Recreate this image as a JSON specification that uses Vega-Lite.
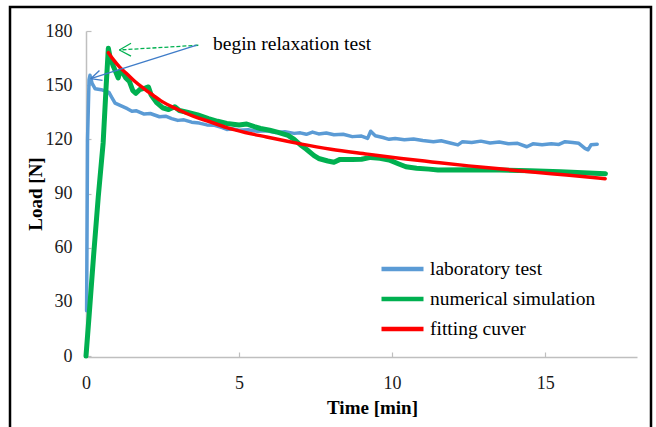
{
  "$schema": "https://vega.github.io/schema/vega-lite/v6.json",
  "width": 641,
  "height": 423,
  "autosize": {"type": "none"},
  "padding": {"left": 10, "top": 7, "right": 5, "bottom": 0},
  "background": "white",
  "config": {
    "view": {"stroke": "#000000", "strokeWidth": 2.5},
    "font": "Liberation Serif",
    "axis": {
      "grid": false,
      "domainColor": "#BFBFBF",
      "domainWidth": 1.5,
      "tickColor": "#BFBFBF",
      "tickWidth": 1.2,
      "tickSize": -5,
      "labelFlush": false,
      "labelOverlap": false,
      "labelFont": "Liberation Serif",
      "labelFontSize": 18,
      "labelColor": "#1a1a1a",
      "titleFont": "Liberation Serif",
      "titleFontSize": 19,
      "titleFontWeight": "bold",
      "titleColor": "#000000"
    }
  },
  "datasets": {
    "lines": [
      {"s": "laboratory test", "t": 0.02, "N": 25},
      {"s": "laboratory test", "t": 0.05, "N": 120},
      {"s": "laboratory test", "t": 0.1, "N": 153},
      {"s": "laboratory test", "t": 0.13, "N": 155.5},
      {"s": "laboratory test", "t": 0.2, "N": 151},
      {"s": "laboratory test", "t": 0.3, "N": 148},
      {"s": "laboratory test", "t": 0.5, "N": 147.5},
      {"s": "laboratory test", "t": 0.75, "N": 146},
      {"s": "laboratory test", "t": 0.85, "N": 143},
      {"s": "laboratory test", "t": 0.95, "N": 140},
      {"s": "laboratory test", "t": 1.15, "N": 138.5},
      {"s": "laboratory test", "t": 1.35, "N": 137},
      {"s": "laboratory test", "t": 1.5, "N": 135.5},
      {"s": "laboratory test", "t": 1.65, "N": 135.8},
      {"s": "laboratory test", "t": 1.9, "N": 134},
      {"s": "laboratory test", "t": 2.1, "N": 134.3},
      {"s": "laboratory test", "t": 2.4, "N": 132.5},
      {"s": "laboratory test", "t": 2.6, "N": 132.8},
      {"s": "laboratory test", "t": 2.8, "N": 131.5},
      {"s": "laboratory test", "t": 3.0, "N": 130.5},
      {"s": "laboratory test", "t": 3.2, "N": 130.8},
      {"s": "laboratory test", "t": 3.45, "N": 129.5},
      {"s": "laboratory test", "t": 3.7, "N": 129},
      {"s": "laboratory test", "t": 3.95, "N": 128},
      {"s": "laboratory test", "t": 4.2, "N": 127.8},
      {"s": "laboratory test", "t": 4.45, "N": 126.5},
      {"s": "laboratory test", "t": 4.6, "N": 125.5},
      {"s": "laboratory test", "t": 4.8, "N": 125.8},
      {"s": "laboratory test", "t": 5.0, "N": 125},
      {"s": "laboratory test", "t": 5.3, "N": 125.3},
      {"s": "laboratory test", "t": 5.6, "N": 124.5},
      {"s": "laboratory test", "t": 5.9, "N": 124.8},
      {"s": "laboratory test", "t": 6.2, "N": 123.8},
      {"s": "laboratory test", "t": 6.5, "N": 124.2},
      {"s": "laboratory test", "t": 6.8, "N": 123.3},
      {"s": "laboratory test", "t": 7.0, "N": 123.6},
      {"s": "laboratory test", "t": 7.2, "N": 122.8},
      {"s": "laboratory test", "t": 7.4, "N": 124},
      {"s": "laboratory test", "t": 7.6, "N": 123},
      {"s": "laboratory test", "t": 7.85, "N": 123.5},
      {"s": "laboratory test", "t": 8.1, "N": 122.5},
      {"s": "laboratory test", "t": 8.4, "N": 122.8},
      {"s": "laboratory test", "t": 8.7, "N": 121.5},
      {"s": "laboratory test", "t": 9.0, "N": 121.8},
      {"s": "laboratory test", "t": 9.2, "N": 120.5},
      {"s": "laboratory test", "t": 9.3, "N": 124.5},
      {"s": "laboratory test", "t": 9.45, "N": 122},
      {"s": "laboratory test", "t": 9.7, "N": 121},
      {"s": "laboratory test", "t": 9.9, "N": 120},
      {"s": "laboratory test", "t": 10.1, "N": 120.5},
      {"s": "laboratory test", "t": 10.4, "N": 119.8},
      {"s": "laboratory test", "t": 10.7, "N": 120.2},
      {"s": "laboratory test", "t": 11.0, "N": 119.3},
      {"s": "laboratory test", "t": 11.35, "N": 118.7},
      {"s": "laboratory test", "t": 11.6, "N": 119.2},
      {"s": "laboratory test", "t": 11.9, "N": 118},
      {"s": "laboratory test", "t": 12.15, "N": 116.9},
      {"s": "laboratory test", "t": 12.3, "N": 118.7},
      {"s": "laboratory test", "t": 12.6, "N": 118.2},
      {"s": "laboratory test", "t": 12.9, "N": 119},
      {"s": "laboratory test", "t": 13.2, "N": 118},
      {"s": "laboratory test", "t": 13.5, "N": 118.5},
      {"s": "laboratory test", "t": 13.8, "N": 117.6},
      {"s": "laboratory test", "t": 14.1, "N": 117.8},
      {"s": "laboratory test", "t": 14.4, "N": 115.9},
      {"s": "laboratory test", "t": 14.6, "N": 117.5},
      {"s": "laboratory test", "t": 14.9, "N": 117},
      {"s": "laboratory test", "t": 15.2, "N": 117.5},
      {"s": "laboratory test", "t": 15.45, "N": 117.2},
      {"s": "laboratory test", "t": 15.65, "N": 118.7},
      {"s": "laboratory test", "t": 15.9, "N": 118.2},
      {"s": "laboratory test", "t": 16.1, "N": 117.8},
      {"s": "laboratory test", "t": 16.3, "N": 115},
      {"s": "laboratory test", "t": 16.4, "N": 114.2},
      {"s": "laboratory test", "t": 16.5, "N": 117},
      {"s": "laboratory test", "t": 16.7, "N": 117.3},

      {"s": "numerical simulation", "t": 0, "N": 0},
      {"s": "numerical simulation", "t": 0.1, "N": 22},
      {"s": "numerical simulation", "t": 0.25, "N": 56},
      {"s": "numerical simulation", "t": 0.4, "N": 88},
      {"s": "numerical simulation", "t": 0.56, "N": 118},
      {"s": "numerical simulation", "t": 0.66, "N": 150},
      {"s": "numerical simulation", "t": 0.73, "N": 170.5},
      {"s": "numerical simulation", "t": 0.78, "N": 166},
      {"s": "numerical simulation", "t": 0.88, "N": 161},
      {"s": "numerical simulation", "t": 0.98, "N": 157},
      {"s": "numerical simulation", "t": 1.05, "N": 154},
      {"s": "numerical simulation", "t": 1.12, "N": 158},
      {"s": "numerical simulation", "t": 1.2, "N": 157},
      {"s": "numerical simulation", "t": 1.3, "N": 154},
      {"s": "numerical simulation", "t": 1.42, "N": 152},
      {"s": "numerical simulation", "t": 1.53, "N": 147},
      {"s": "numerical simulation", "t": 1.63, "N": 145.5},
      {"s": "numerical simulation", "t": 1.75, "N": 147.5},
      {"s": "numerical simulation", "t": 1.95, "N": 148.5},
      {"s": "numerical simulation", "t": 2.04, "N": 149},
      {"s": "numerical simulation", "t": 2.13, "N": 144.5},
      {"s": "numerical simulation", "t": 2.3, "N": 140.5},
      {"s": "numerical simulation", "t": 2.5, "N": 137.5},
      {"s": "numerical simulation", "t": 2.7, "N": 136.5},
      {"s": "numerical simulation", "t": 2.9, "N": 138},
      {"s": "numerical simulation", "t": 3.05, "N": 136},
      {"s": "numerical simulation", "t": 3.3, "N": 135},
      {"s": "numerical simulation", "t": 3.65, "N": 133.5},
      {"s": "numerical simulation", "t": 4.0, "N": 131.5},
      {"s": "numerical simulation", "t": 4.3, "N": 130},
      {"s": "numerical simulation", "t": 4.6, "N": 128.8},
      {"s": "numerical simulation", "t": 5.0, "N": 127.9},
      {"s": "numerical simulation", "t": 5.25, "N": 128.5},
      {"s": "numerical simulation", "t": 5.5, "N": 127},
      {"s": "numerical simulation", "t": 5.7, "N": 126},
      {"s": "numerical simulation", "t": 6.0, "N": 125},
      {"s": "numerical simulation", "t": 6.25, "N": 124},
      {"s": "numerical simulation", "t": 6.6, "N": 122.2},
      {"s": "numerical simulation", "t": 6.8, "N": 120},
      {"s": "numerical simulation", "t": 7.0, "N": 117},
      {"s": "numerical simulation", "t": 7.2, "N": 114.5},
      {"s": "numerical simulation", "t": 7.45, "N": 111},
      {"s": "numerical simulation", "t": 7.6, "N": 109.4},
      {"s": "numerical simulation", "t": 7.9, "N": 108},
      {"s": "numerical simulation", "t": 8.1, "N": 107.3},
      {"s": "numerical simulation", "t": 8.3, "N": 108.9},
      {"s": "numerical simulation", "t": 8.7, "N": 108.9},
      {"s": "numerical simulation", "t": 9.0, "N": 109},
      {"s": "numerical simulation", "t": 9.3, "N": 110},
      {"s": "numerical simulation", "t": 9.6, "N": 109.5},
      {"s": "numerical simulation", "t": 9.9, "N": 108.6},
      {"s": "numerical simulation", "t": 10.2, "N": 106.5},
      {"s": "numerical simulation", "t": 10.45, "N": 104.8},
      {"s": "numerical simulation", "t": 10.8, "N": 104},
      {"s": "numerical simulation", "t": 11.2, "N": 103.5},
      {"s": "numerical simulation", "t": 11.5, "N": 103},
      {"s": "numerical simulation", "t": 12.5, "N": 103.2},
      {"s": "numerical simulation", "t": 13.5, "N": 103},
      {"s": "numerical simulation", "t": 14.5, "N": 102.6},
      {"s": "numerical simulation", "t": 15.5, "N": 102},
      {"s": "numerical simulation", "t": 16.97, "N": 101},

      {"s": "fitting cuver", "t": 0.73, "N": 168},
      {"s": "fitting cuver", "t": 0.9, "N": 164},
      {"s": "fitting cuver", "t": 1.1, "N": 160},
      {"s": "fitting cuver", "t": 1.35, "N": 156},
      {"s": "fitting cuver", "t": 1.6, "N": 152},
      {"s": "fitting cuver", "t": 1.9, "N": 148},
      {"s": "fitting cuver", "t": 2.2, "N": 144.3},
      {"s": "fitting cuver", "t": 2.45, "N": 141.3},
      {"s": "fitting cuver", "t": 3.0, "N": 136.5},
      {"s": "fitting cuver", "t": 3.5, "N": 132.8},
      {"s": "fitting cuver", "t": 4.0, "N": 130},
      {"s": "fitting cuver", "t": 4.6, "N": 126.5},
      {"s": "fitting cuver", "t": 5.2, "N": 123.8},
      {"s": "fitting cuver", "t": 5.9, "N": 121.3},
      {"s": "fitting cuver", "t": 6.5, "N": 119.2},
      {"s": "fitting cuver", "t": 7.0, "N": 117.5},
      {"s": "fitting cuver", "t": 8.0, "N": 114.5},
      {"s": "fitting cuver", "t": 9.2, "N": 111.8},
      {"s": "fitting cuver", "t": 10.3, "N": 109.4},
      {"s": "fitting cuver", "t": 11.3, "N": 107.5},
      {"s": "fitting cuver", "t": 12.5, "N": 105.3},
      {"s": "fitting cuver", "t": 13.5, "N": 103.7},
      {"s": "fitting cuver", "t": 14.5, "N": 102},
      {"s": "fitting cuver", "t": 15.7, "N": 100.2},
      {"s": "fitting cuver", "t": 16.96, "N": 98.2}
    ],
    "greenShaft": [
      {"t": 3.67, "N": 172.1, "t2": 1.09, "N2": 169.5}
    ],
    "greenHead": [
      {"t": 1.09, "N": 169.5, "t2": 1.47, "N2": 173.2},
      {"t": 1.09, "N": 169.5, "t2": 1.47, "N2": 166.1}
    ],
    "blueArrow": [
      {"t": 3.62, "N": 172.2, "t2": 0.154, "N2": 153.6},
      {"t": 0.154, "N": 153.6, "t2": 0.44, "N2": 158.1},
      {"t": 0.154, "N": 153.6, "t2": 0.54, "N2": 152.7}
    ],
    "note": [
      {"t": 4.15, "N": 172.8, "label": "begin relaxation test"}
    ]
  },
  "layer": [
    {
      "data": {"name": "lines"},
      "transform": [{"filter": "datum.s === 'laboratory test'"}],
      "mark": {"type": "line", "strokeWidth": 3.5, "strokeJoin": "round", "strokeCap": "round"},
      "encoding": {
        "x": {
          "field": "t", "type": "quantitative",
          "scale": {"domain": [0, 18], "range": [76, 627], "nice": false, "zero": false},
          "axis": {"orient": "bottom", "offset": -73, "values": [0, 5, 10, 15], "labelPadding": 22, "title": "Time [min]", "titleX": 362, "titleY": 41}
        },
        "y": {
          "field": "N", "type": "quantitative",
          "scale": {"domain": [0, 180], "range": [349, 24], "nice": false, "zero": false},
          "axis": {"orient": "left", "offset": -76, "values": [0, 30, 60, 90, 120, 150, 180], "labelPadding": 19, "title": "Load [N]", "titleX": -41, "titleY": 186.5}
        },
        "color": {
          "field": "s", "type": "nominal",
          "scale": {"domain": ["laboratory test", "numerical simulation", "fitting cuver"], "range": ["#5B9BD5", "#00B050", "#FF0000"]},
          "legend": {
            "orient": "none", "legendX": 369, "legendY": 247, "title": null,
            "symbolType": "stroke", "symbolSize": 1764, "symbolStrokeWidth": 4.5,
            "clipHeight": 30, "rowPadding": 0, "padding": 0, "labelOffset": 4,
            "labelFont": "Liberation Serif", "labelFontSize": 19.5, "labelColor": "#000000", "labelLimit": 300
          }
        },
        "order": {"field": "t", "type": "quantitative"}
      }
    },
    {
      "data": {"name": "lines"},
      "transform": [{"filter": "datum.s === 'numerical simulation'"}],
      "mark": {"type": "line", "strokeWidth": 5, "strokeJoin": "round", "strokeCap": "round"},
      "encoding": {
        "x": {"field": "t", "type": "quantitative", "title": "Time [min]"},
        "y": {"field": "N", "type": "quantitative", "title": "Load [N]"},
        "color": {"field": "s", "type": "nominal"},
        "order": {"field": "t", "type": "quantitative"}
      }
    },
    {
      "data": {"name": "lines"},
      "transform": [{"filter": "datum.s === 'fitting cuver'"}],
      "mark": {"type": "line", "strokeWidth": 3.5, "interpolate": "monotone", "strokeCap": "round"},
      "encoding": {
        "x": {"field": "t", "type": "quantitative", "title": "Time [min]"},
        "y": {"field": "N", "type": "quantitative", "title": "Load [N]"},
        "color": {"field": "s", "type": "nominal"},
        "order": {"field": "t", "type": "quantitative"}
      }
    },
    {
      "data": {"name": "greenShaft"},
      "mark": {"type": "rule", "color": "#00B050", "strokeWidth": 1.3, "strokeDash": [4, 2]},
      "encoding": {
        "x": {"field": "t", "type": "quantitative", "title": "Time [min]"},
        "y": {"field": "N", "type": "quantitative", "title": "Load [N]"},
        "x2": {"field": "t2"},
        "y2": {"field": "N2"}
      }
    },
    {
      "data": {"name": "greenHead"},
      "mark": {"type": "rule", "color": "#00B050", "strokeWidth": 1.2},
      "encoding": {
        "x": {"field": "t", "type": "quantitative", "title": "Time [min]"},
        "y": {"field": "N", "type": "quantitative", "title": "Load [N]"},
        "x2": {"field": "t2"},
        "y2": {"field": "N2"}
      }
    },
    {
      "data": {"name": "blueArrow"},
      "mark": {"type": "rule", "color": "#3F7CC8", "strokeWidth": 1.3},
      "encoding": {
        "x": {"field": "t", "type": "quantitative", "title": "Time [min]"},
        "y": {"field": "N", "type": "quantitative", "title": "Load [N]"},
        "x2": {"field": "t2"},
        "y2": {"field": "N2"}
      }
    },
    {
      "data": {"name": "note"},
      "mark": {"type": "text", "align": "left", "baseline": "middle", "font": "Liberation Serif", "fontSize": 19.5, "color": "#000000"},
      "encoding": {
        "x": {"field": "t", "type": "quantitative", "title": "Time [min]"},
        "y": {"field": "N", "type": "quantitative", "title": "Load [N]"},
        "text": {"field": "label"}
      }
    }
  ]
}
